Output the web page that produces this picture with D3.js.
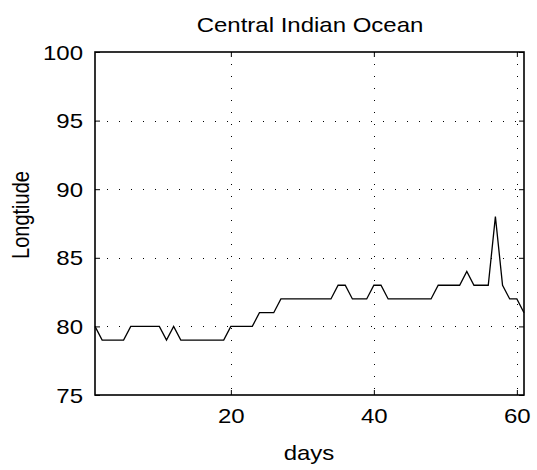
<!DOCTYPE html>
<html>
<head>
<meta charset="utf-8">
<script src="https://cdn.jsdelivr.net/npm/d3@7"></script>
<style>
  body { margin: 0; background: #fff; }
  text { font-family: "Liberation Sans", Arial, sans-serif; fill: #000; }
</style>
</head>
<body>
<div class="viz"></div>
<script>
// longitude per day
const days = d3.range(1, 62);
const longitude = [
  80, 79, 79, 79, 79, 80, 80, 80, 80, 80,
  79, 80, 79, 79, 79, 79, 79, 79, 79, 80,
  80, 80, 80, 81, 81, 81, 82, 82, 82, 82,
  82, 82, 82, 82, 83, 83, 82, 82, 82, 83,
  83, 82, 82, 82, 82, 82, 82, 82, 83, 83,
  83, 83, 84, 83, 83, 83, 88, 83, 82, 82,
  81
];
const xTicks = [20, 40, 60];
const yTicks = [75, 80, 85, 90, 95, 100];

var width = 537, height = 470;
var margin = {top: 52, left: 95, right: 13, bottom: 75};
var x0 = margin.left, x1 = width - margin.right,
    y0 = margin.top, y1 = height - margin.bottom;
var fs = 20, stretch = 1.2; // the figure is wider than tall, text too

var svg = d3.select('.viz').append('svg')
    .attr('width', width)
    .attr('height', height);

var x = d3.scaleLinear().domain([1, 61]).range([x0, x1]);
var y = d3.scaleLinear().domain([75, 100]).range([y1, y0]);

// dotted grid
var grid = svg.append('g')
    .attr('stroke', '#000')
    .attr('stroke-width', 1)
    .attr('stroke-dasharray', '1,11');

grid.selectAll('line.gx')
    .data(xTicks)
    .enter().append('line')
    .attr('class', 'gx')
    .attr('x1', d => Math.round(x(d)) + 0.5)
    .attr('x2', d => Math.round(x(d)) + 0.5)
    .attr('y1', y0).attr('y2', y1);

grid.selectAll('line.gy')
    .data(yTicks.slice(1, -1))
    .enter().append('line')
    .attr('class', 'gy')
    .attr('y1', d => Math.round(y(d)) + 0.5)
    .attr('y2', d => Math.round(y(d)) + 0.5)
    .attr('x1', x0).attr('x2', x1);

// the data line
var line = d3.line()
    .x((d, i) => x(days[i]))
    .y(d => y(d));

svg.append('path')
    .datum(longitude)
    .attr('d', line)
    .attr('fill', 'none')
    .attr('stroke', '#000')
    .attr('stroke-width', 1.3);

// axes: ticks inside, mirrored on top and right
var tickLen = 5;
var axisBottom = d3.axisBottom(x).tickValues(xTicks).tickSize(-tickLen);
var axisTop = d3.axisTop(x).tickValues(xTicks).tickSize(-tickLen).tickFormat('');
var axisLeft = d3.axisLeft(y).tickValues(yTicks).tickSize(-tickLen);
var axisRight = d3.axisRight(y).tickValues(yTicks).tickSize(-tickLen).tickFormat('');

function style(g) {
    g.select('.domain').remove();
    g.selectAll('.tick line').attr('stroke', '#000').attr('stroke-width', 1);
    g.selectAll('text')
        .attr('font-size', fs)
        .attr('font-family', '"Liberation Sans", Arial, sans-serif');
}

svg.append('g').attr('transform', 'translate(0,' + y1 + ')').call(axisBottom).call(style)
    .selectAll('text')
    .attr('x', 0).attr('y', 0).attr('dy', null)
    .attr('transform', 'translate(0,28) scale(' + stretch + ',1)');
svg.append('g').attr('transform', 'translate(0,' + y0 + ')').call(axisTop).call(style);
svg.append('g').attr('transform', 'translate(' + x0 + ',0)').call(axisLeft).call(style)
    .selectAll('text')
    .attr('x', 0).attr('y', 0).attr('dy', '0.35em')
    .attr('transform', 'translate(-12,0) scale(' + stretch + ',1)');
svg.append('g').attr('transform', 'translate(' + x1 + ',0)').call(axisRight).call(style);

// box
svg.append('rect')
    .attr('x', x0).attr('y', y0)
    .attr('width', x1 - x0).attr('height', y1 - y0)
    .attr('fill', 'none')
    .attr('stroke', '#000')
    .attr('stroke-width', 1.6);

// labels
svg.append('text')
    .attr('transform', 'translate(310,32) scale(' + stretch + ',1)')
    .attr('text-anchor', 'middle')
    .attr('font-size', fs)
    .text('Central Indian Ocean');

svg.append('text')
    .attr('transform', 'translate(309,460) scale(' + stretch + ',1)')
    .attr('text-anchor', 'middle')
    .attr('font-size', fs)
    .text('days');

svg.append('text')
    .attr('transform', 'translate(29,215) scale(' + stretch + ',1) rotate(-90)')
    .attr('text-anchor', 'middle')
    .attr('font-size', fs)
    .text('Longtiude');
</script>
</body>
</html>
